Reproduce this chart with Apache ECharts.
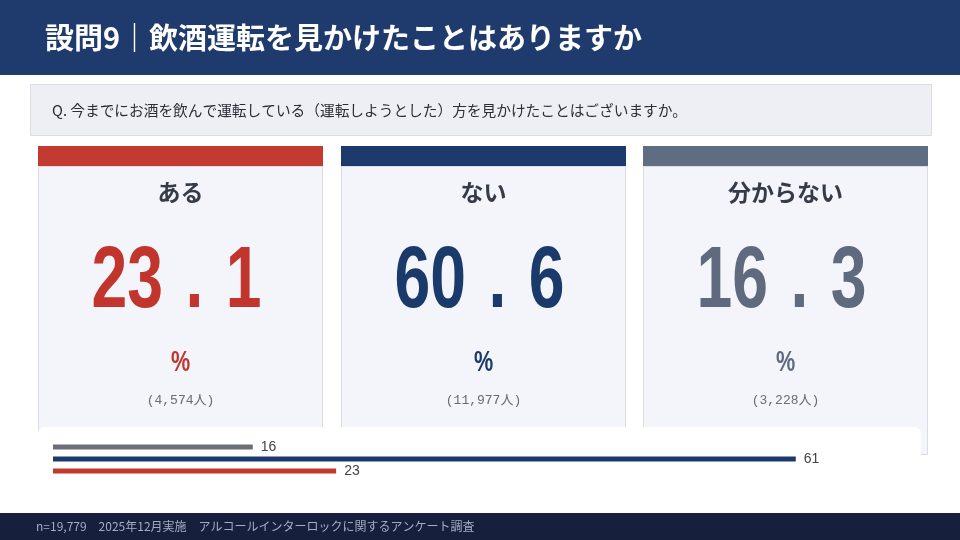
<!DOCTYPE html>
<html>
<head>
<meta charset="utf-8">
<script src="https://cdn.jsdelivr.net/npm/echarts@6/dist/echarts.min.js"></script>
<style>
html,body{margin:0;padding:0;background:#fff;}
#main{width:960px;height:540px;}
</style>
</head>
<body>
<div id="main"></div>
<script>
// 回答データ
var labels = ['ある', 'ない', '分からない'];
var percents = [23.1, 60.6, 16.3];
var counts = ['4,574', '11,977', '3,228'];
var titleText = '設問9｜飲酒運転を見かけたことはありますか';
var questionText = 'Q. 今までにお酒を飲んで運転している（運転しようとした）方を見かけたことはございますか。';
var footerText = 'n=19,779　2025年12月実施　アルコールインターロックに関するアンケート調査';

// 色
var cardColors = ['#c23a30', '#1c3a6b', '#5f6d83'];
var numColors = ['#c1352d', '#1a3a6b', '#5f6a7e'];
var barColors = ['#c0392b', '#1b3a6b', '#6b6e76'];

var CJK = '"Noto Sans CJK JP", sans-serif';
var NUM = '"Liberation Sans", Arial, sans-serif';
var MONO = '"Liberation Mono", "Noto Sans CJK JP", monospace';

var myChart = echarts.init(document.getElementById('main'));

var graphics = [];
// ヘッダー
graphics.push({type: 'rect', shape: {x: 0, y: 0, width: 960, height: 75}, style: {fill: '#1f3a6d'}});
graphics.push({type: 'text', x: 45, y: 38, style: {text: titleText, fill: '#fff', font: 'bold 29px ' + CJK, verticalAlign: 'middle'}});
// 設問
graphics.push({type: 'rect', shape: {x: 30.5, y: 84.5, width: 901, height: 51}, style: {fill: '#eeeff4', stroke: '#dcdde2', lineWidth: 1}});
graphics.push({type: 'text', x: 52, y: 110, style: {text: questionText, fill: '#2a2e36', font: '14.7px ' + CJK, verticalAlign: 'middle'}});

// カード
var cardX = [38, 341, 643];
for (var i = 0; i < labels.length; i++) {
    var cx = cardX[i] + 142.5;
    var parts = String(percents[i]).split('.');
    graphics.push({type: 'rect', shape: {x: cardX[i] + 0.5, y: 166.5, width: 284, height: 288}, style: {fill: '#f3f5fa', stroke: '#d9dce3', lineWidth: 1}});
    graphics.push({type: 'rect', shape: {x: cardX[i], y: 146, width: 285, height: 20}, style: {fill: cardColors[i]}});
    graphics.push({type: 'text', x: cx, y: 192, style: {text: labels[i], fill: '#353c48', font: 'bold 23px ' + CJK, align: 'center', verticalAlign: 'middle'}});
    // 大きい数字（縦長）
    graphics.push({type: 'text', x: cx - 4, y: 283, scaleX: 0.73, style: {
        text: '{n|' + parts[0] + '}{d|.}{n|' + parts[1] + '}',
        align: 'center', verticalAlign: 'middle',
        rich: {
            n: {fill: numColors[i], font: 'bold 88px ' + NUM},
            d: {fill: numColors[i], font: 'bold 88px ' + NUM, width: 86, align: 'center'}
        }
    }});
    graphics.push({type: 'text', x: cx, y: 363, scaleX: 0.72, style: {text: '%', fill: numColors[i], font: 'bold 30px ' + NUM, align: 'center', verticalAlign: 'middle'}});
    graphics.push({type: 'text', x: cx, y: 401, style: {text: '(' + counts[i] + '人)', fill: '#6a6d73', font: '13px ' + MONO, align: 'center', verticalAlign: 'middle'}});
}
// グラフ背景
graphics.push({type: 'rect', shape: {x: 38, y: 427, width: 883, height: 86, r: [6, 6, 0, 0]}, style: {fill: '#fff'}});
// フッター
graphics.push({type: 'rect', shape: {x: 0, y: 513, width: 960, height: 27}, style: {fill: '#161f3c'}});
graphics.push({type: 'text', x: 36, y: 526, style: {text: footerText, fill: '#a3adc2', font: '12px ' + CJK, verticalAlign: 'middle'}});

option = {
    animation: false,
    graphic: graphics,
    grid: {left: 53, right: 49, top: 441, height: 36},
    xAxis: {type: 'value', min: 0, max: 70, show: false},
    yAxis: {type: 'category', data: labels, show: false},
    series: [{
        type: 'bar',
        barWidth: 5,
        data: percents.map(function (v, k) {
            return {value: v, itemStyle: {color: barColors[k]}};
        }),
        label: {
            show: true,
            position: 'right',
            distance: 8,
            color: '#444',
            fontSize: 14,
            formatter: function (p) { return Math.round(p.value); }
        }
    }]
};

myChart.setOption(option, true);
</script>
</body>
</html>
